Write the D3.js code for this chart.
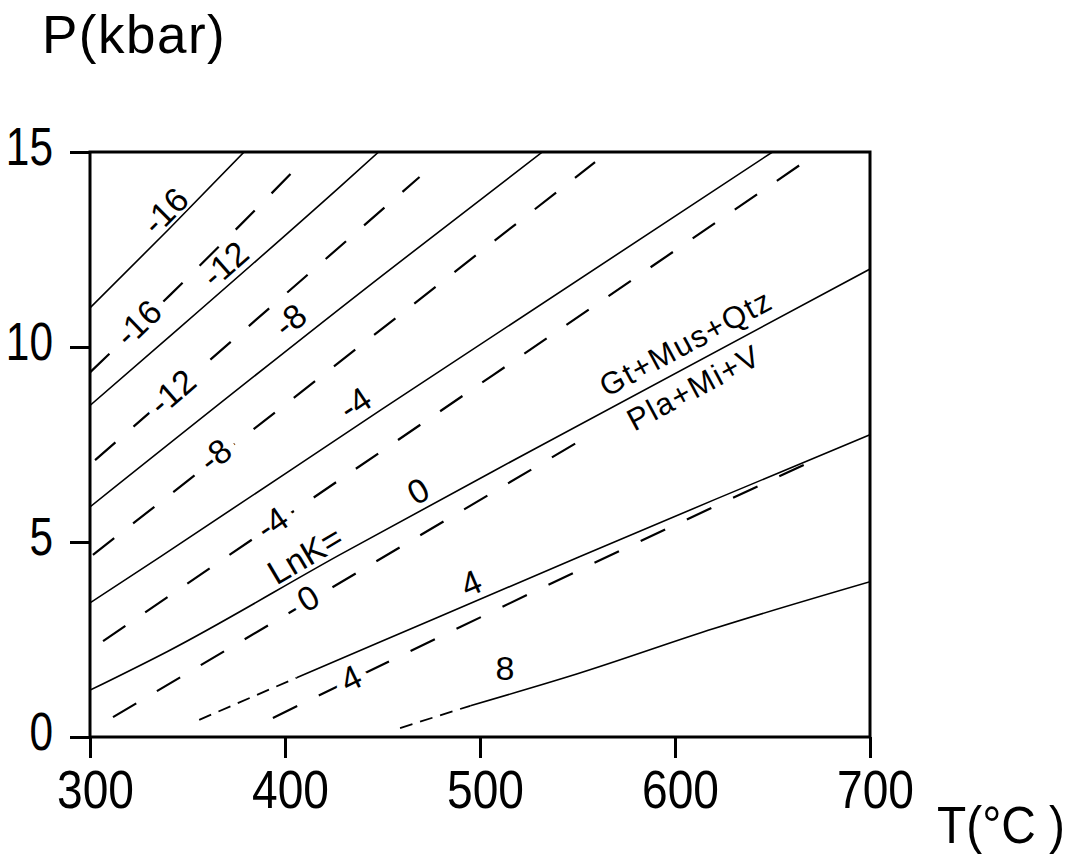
<!DOCTYPE html>
<html><head><meta charset="utf-8">
<script src="https://cdn.jsdelivr.net/npm/d3@7"></script>
<style>
html,body{margin:0;padding:0;background:#fff;}
svg{display:block;background:#fff;}
</style></head><body>
<svg id="chart" width="1079" height="856"></svg>
<script>
// ---------- data (T in °C, P in kbar) ----------
const xTicks = [300, 400, 500, 600, 700];
const yTicks = [0, 5, 10, 15];

// solid LnK isopleths
const solidM16 = [[300, 11.0], [340, 13.0], [379, 15.0]];
const solidM12 = [[300, 8.5], [345, 10.45], [428, 14.1], [448, 15.0]];
const solidM8  = [[300, 5.9], [449, 11.8], [532, 15.0]];
const solidM4  = [[300, 3.44], [336, 4.62], [449, 8.38], [650, 15.0]];
const solid0   = [[300, 1.2], [340, 2.2], [428, 4.67], [527, 7.36], [700, 12.0]];
const solid4   = [[406, 1.52], [449, 2.44], [551, 4.62], [620, 6.08], [700, 7.75]];
const solid8   = [[495, 0.8], [550, 1.62], [620, 2.78], [700, 3.98]];
// short-dash extrapolations
const solid4Ext = [[356, 0.44], [406, 1.52]];
const solid8Ext = [[459, 0.23], [495, 0.8]];

// dashed LnK isopleths
const dashM16 = [[300, 9.35], [341, 11.33], [411, 14.85]];
const dashM12 = [[302.6, 7.1], [409.7, 11.77], [469, 14.36]];
const dashM8  = [[301.5, 4.67], [559, 14.74]];
const dashM4  = [[306.7, 2.46], [506.7, 9.28], [665.6, 14.72]];
const dash0   = [[311.8, 0.51], [553.8, 7.67]];
const dash4   = [[393.8, 0.49], [558.5, 4.46], [669.2, 7.05]];

// labels: text, T, P, line they follow
const solidLabels = [
  ["-16", 338.5, 13.49, solidM16],
  ["-12", 369.2, 12.13, solidM12],
  ["-8", 402.6, 10.69, solidM8],
  ["-4", 435.9, 8.56, solidM4],
  ["0", 468.2, 6.31, solid0],
  ["4", 495.4, 3.95, solid4],
  ["8", 512.8, 1.77, null]
];
const dashLabels = [
  ["-16", 324.6, 10.62, dashM16],
  ["-12", 342.1, 8.85, dashM12],
  ["-8", 364.1, 7.23, dashM8],
  ["-4", 393.3, 5.49, dashM4],
  ["0", 411.8, 3.56, dash0],
  ["4", 433.8, 1.51, dash4]
];
const keyLabels = [
  ["LnK=", 410.3, 4.67, dash0]
];
const reactionLabels = [
  ["Gt+Mus+Qtz", 605.6, 10.10, solid0],
  ["Pla+Mi+V", 609.7, 8.95, solid0]
];

// ---------- drawing ----------
const svg = d3.select("#chart");
const W = 1079, H = 856;
const x = d3.scaleLinear().domain([300, 700]).range([90, 870]);
const y = d3.scaleLinear().domain([0, 15]).range([737, 152]);

svg.append("rect").attr("width", W).attr("height", H).attr("fill", "#fff");

svg.append("defs").append("clipPath").attr("id", "plotclip")
  .append("rect")
  .attr("x", x(300)).attr("y", y(15))
  .attr("width", x(700) - x(300)).attr("height", y(0) - y(15));

const line = d3.line().x(d => x(d[0])).y(d => y(d[1])).curve(d3.curveMonotoneX);

const plot = svg.append("g").attr("clip-path", "url(#plotclip)");

[solidM16, solidM12, solidM8, solidM4, solid0, solid4, solid8].forEach(s => {
  plot.append("path").attr("d", line(s))
    .attr("fill", "none").attr("stroke", "#000").attr("stroke-width", 1.6);
});
[solid4Ext, solid8Ext].forEach(s => {
  plot.append("path").attr("d", line(s))
    .attr("fill", "none").attr("stroke", "#000").attr("stroke-width", 1.8)
    .attr("stroke-dasharray", "13,8");
});
[dashM16, dashM12, dashM8, dashM4, dash0, dash4].forEach(s => {
  plot.append("path").attr("d", line(s))
    .attr("fill", "none").attr("stroke", "#000").attr("stroke-width", 2.2)
    .attr("stroke-dasharray", "27,24");
});

function angleAt(pts, T) {
  if (!pts) return 0;
  let i = 0;
  while (i < pts.length - 2 && pts[i + 1][0] < T) i++;
  const a = pts[i], b = pts[i + 1];
  return Math.atan2(y(b[1]) - y(a[1]), x(b[0]) - x(a[0])) * 180 / Math.PI;
}

const labelFont = "'Liberation Sans', Arial, sans-serif";
function drawLabels(arr, size, spacing, halo) {
  arr.forEach(([t, T, P, ref]) => {
    const ang = angleAt(ref, T);
    svg.append("text")
      .attr("transform", `translate(${x(T)},${y(P)}) rotate(${ang})`)
      .attr("text-anchor", "middle")
      .attr("dominant-baseline", "central")
      .attr("font-family", labelFont)
      .attr("font-size", size)
      .attr("letter-spacing", spacing)
      .attr("fill", "#000")
      .attr("stroke", "#fff").attr("stroke-width", halo)
      .attr("stroke-linejoin", "round")
      .attr("paint-order", "stroke")
      .text(t);
  });
}
drawLabels(solidLabels, 34, 0, 4);
drawLabels(dashLabels, 34, 0, 16);
drawLabels(keyLabels, 34, 0, 4);
drawLabels(reactionLabels, 31, 1.5, 3);

// axes
const tickFont = "'Liberation Sans', Arial, sans-serif";
const gx = svg.append("g").attr("transform", `translate(0,${y(0)})`)
  .call(d3.axisBottom(x).tickValues(xTicks).tickSize(21).tickPadding(12).tickFormat(d3.format("d")));
gx.select(".domain").remove();
gx.selectAll(".tick line").attr("stroke", "#000").attr("stroke-width", 3);
gx.selectAll(".tick text")
  .attr("fill", "#000").attr("font-family", tickFont).attr("font-size", 53)
  .attr("transform", "translate(5,0) scale(0.87,1)");

const gy = svg.append("g").attr("transform", `translate(${x(300)},0)`)
  .call(d3.axisLeft(y).tickValues(yTicks).tickSize(20).tickPadding(17).tickFormat(d3.format("d")));
gy.select(".domain").remove();
gy.selectAll(".tick line").attr("stroke", "#000").attr("stroke-width", 3);
gy.selectAll(".tick text")
  .attr("fill", "#000").attr("font-family", tickFont).attr("font-size", 53)
  .attr("x", 0)
  .attr("transform", "translate(-37,-4) scale(0.8,1)");

// frame
svg.append("rect")
  .attr("x", x(300)).attr("y", y(15))
  .attr("width", x(700) - x(300)).attr("height", y(0) - y(15))
  .attr("fill", "none").attr("stroke", "#000").attr("stroke-width", 3);

// axis titles
svg.append("text").attr("x", 42).attr("y", 53)
  .attr("font-family", tickFont).attr("font-size", 53).attr("letter-spacing", 1.5)
  .attr("fill", "#000").text("P(kbar)");
svg.append("text")
  .attr("transform", "translate(937,843) scale(0.92,1)")
  .attr("font-family", tickFont).attr("font-size", 52)
  .attr("fill", "#000").text("T(°C )");
</script>
</body></html>
